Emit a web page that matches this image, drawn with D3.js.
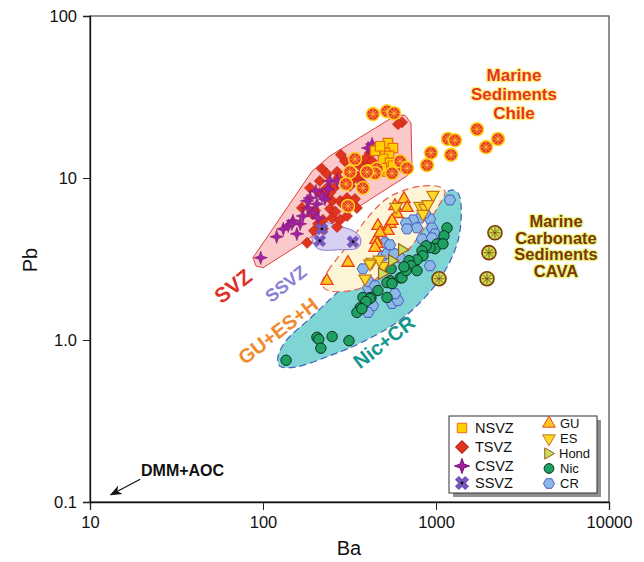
<!DOCTYPE html>
<html lang="en">
<head>
<meta charset="utf-8">
<title>Pb vs Ba</title>
<script src="https://cdn.jsdelivr.net/npm/d3@7/dist/d3.min.js"></script>
<style>
  body { margin: 0; background: #fff; }
  text { font-family: "Liberation Sans", Arial, Helvetica, sans-serif; }
</style>
</head>
<body>
<div id="chart"></div>
<script>
"use strict"

// ---- data: [Ba, Pb] ----
var nsvz = [[528,16.4],[564,15.3],[462,14.9],[507,14.3],[535,13.7],[494,13.1],[542,12.4],
            [521,11.0],[487,11.5],[564,11.9],[444,14.7],[475,15.7]];
var tsvz = [[636,22.1],[603,21.5],[282,13.9],[219,11.4],[234,10.6],[268,10.9],[272,10.0],
            [340,12.4],[389,12.7],[415,14.3],[389,13.1],[405,11.4],[373,9.31],[645,11.5],
            [213,8.08],[234,8.68],[257,8.68],[251,7.22],[279,7.22],[306,7.53],[340,7.42],
            [349,6.54],[168,6.54],[192,6.00],[222,5.51],[251,5.67],[279,5.51],[306,5.83],
            [268,4.99],[222,4.85],[180,3.98],[244,6.45],[213,9.59],[197,4.72],[208,5.21],
            [228,7.75],[187,8.68],[378,9.18],[318,8.93],[427,12.7],[364,11.9],[298,12.7],
            [262,6.2],[290,6.9],[330,9.8],[355,10.2],[244,8.1],[200,6.3]];
var csvz = [[97,3.22],[120,4.34],[131,4.85],[140,5.07],[149,5.44],[157,4.52],[170,5.83],
            [182,6.54],[195,6.09],[205,6.91],[208,5.67],[228,7.42],[238,8.55],[187,7.53],
            [219,7.75],[244,9.59],[268,9.59],[405,15.3],[427,16.2],[164,5.21],[180,7.22],
            [147,5.21],[202,8.31]];
var ssvz = [[219,4.85],[213,4.10],[331,4.04]];
var gu   = [[653,7.42],[680,6.54],[595,6.00],[462,5.07],[542,5.21],[528,4.72],[450,4.15],
            [456,3.92],[444,3.71],[310,3.00],[234,2.32],[579,6.72],[557,5.44],[475,4.59]];
var es   = [[961,7.86],[809,6.72],[864,6.54],[841,6.00],[587,6.63],[427,3.04],[494,2.87],
            [469,3.13],[389,2.39],[415,2.96],[899,6.90]];
var hond = [[636,3.61],[557,3.09],[487,2.57]];
var nic  = [[1158,4.92],[1112,4.40],[1014,3.92],[987,3.66],[923,3.71],[876,3.81],[830,3.55],
            [841,3.31],[776,3.13],[698,3.09],[717,2.87],[776,2.68],[620,2.42],[542,2.32],
            [550,2.75],[521,2.26],[462,2.02],[378,1.83],[421,1.83],[521,1.83],[636,2.42],
            [557,2.23],[671,2.68],[415,1.80],[394,1.73],[364,1.58],[349,1.48],[373,1.56],
            [205,1.04],[210,1.01],[216,0.89],[251,1.05],[314,0.99],[136,0.75],[1097,3.92],
            [653,2.83]];
var cr   = [[1204,7.32],[923,5.59],[809,5.67],[736,5.51],[671,5.28],[776,4.92],[680,4.85],
            [948,4.92],[987,4.52],[830,4.21],[948,4.27],[507,3.98],[494,3.31],[550,3.36],
            [620,3.22],[378,2.75],[923,2.87],[405,2.10],[410,2.29],[521,3.41],[572,3.41],
            [542,3.87],[444,2.16],[557,1.68],[603,1.75],[432,1.63],[405,1.48],[579,1.93],
            [864,6.09]];
var chileSed = [[432,24.8],[521,25.8],[572,25.1],[1173,17.4],[1288,17.1],[1726,20.0],
                [2282,17.4],[935,14.3],[1221,13.9],[1946,15.5],[887,12.0],
                [318,10.9],[302,9.18],[340,13.1],[405,11.0],[456,11.4],[378,8.68],
                [310,6.72],[620,12.7],[680,11.5],[444,10.7],[557,10.7],[399,10.9]];
var cavaSed = [[2192,4.59],[2024,3.46],[1972,2.39],[1041,2.39]];

// fields (outlines, [Ba, Pb])
var svzField  = [[87.5,3.22],[91,2.87],[100,2.79],[689,10.4],[727,11.2],[717,21.8],
                 [662,24.4],[587,24.4],[244,13.7],[192,11.0]];
var ssvzField = [[192,4.21],[202,4.99],[222,5.36],[261,5.13],[340,4.65],[368,4.15],
                 [354,3.71],[279,3.61],[208,3.66]];
var guesField = [[219,2.20],[238,2.68],[298,3.66],[389,5.44],[507,7.32],[636,8.31],
                 [830,8.93],[1054,8.80],[1127,8.20],[1027,6.63],[864,4.99],[708,3.71],
                 [542,2.83],[427,2.29],[340,2.04],[238,2.02]];
var niccrField = [[122,0.79],[136,0.99],[187,1.36],[268,1.96],[475,3.46],[809,5.84],
                  [1054,7.64],[1236,8.44],[1340,8.08],[1396,6.72],[1340,4.10],[1054,2.39],
                  [662,1.40],[389,0.99],[244,0.80],[153,0.68],[125,0.69]];

// axes
var xMajor = [10, 100, 1000, 10000];
var xMajorLabels = ["10", "100", "1000", "10000"];
var yMajor = [0.1, 1, 10, 100];
var yMajorLabels = ["0.1", "1.0", "10", "100"];

// ---- chart ----
var W = 644, H = 562;
var svg = d3.select('#chart').append('svg').attr('width', W).attr('height', H);

var x = d3.scaleLog().domain([10, 10000]).range([90, 609]);
var y = d3.scaleLog().domain([0.1, 100]).range([502, 16]);

function minors(lo, hi) {
  var out = [];
  for (var d = lo; d < hi; d *= 10)
    for (var k = 2; k <= 9; k++) out.push(d * k);
  return out;
}

var line = d3.line().x(d => x(d[0])).y(d => y(d[1]));

// fields
svg.append('path').datum(niccrField)
  .attr('d', line.curve(d3.curveCatmullRomClosed.alpha(0.5)))
  .attr('fill', '#7fd5d3').attr('stroke', '#4a5cba').attr('stroke-width', 1.2)
  .attr('stroke-dasharray', '7,4');
svg.append('path').datum(guesField)
  .attr('d', line.curve(d3.curveCatmullRomClosed.alpha(0.5)))
  .attr('fill', '#fdf5d6').attr('stroke', '#e85a50').attr('stroke-width', 1.2)
  .attr('stroke-dasharray', '7,4');
svg.append('path').datum(svzField)
  .attr('d', line.curve(d3.curveLinearClosed))
  .attr('fill', '#fbc9c9').attr('stroke', '#e0403a').attr('stroke-width', 1)
  .attr('stroke-linejoin', 'round');
svg.append('path').datum(ssvzField)
  .attr('d', line.curve(d3.curveCatmullRomClosed.alpha(0.5)))
  .attr('fill', '#d9cff3').attr('stroke', '#8a7ad0').attr('stroke-width', 1);

// custom symbols
var star4 = { draw: function(ctx, size) {
  var r = Math.sqrt(size) * 0.72, ri = r * 0.36;
  for (var i = 0; i < 8; i++) {
    var a = Math.PI / 4 * i - Math.PI / 2, rr = i % 2 ? ri : r;
    var px = rr * Math.cos(a), py = rr * Math.sin(a);
    if (i) ctx.lineTo(px, py); else ctx.moveTo(px, py);
  }
  ctx.closePath();
}};
var hexagon = { draw: function(ctx, size) {
  var r = Math.sqrt(size / 2.598);
  for (var i = 0; i < 6; i++) {
    var a = Math.PI / 3 * i, px = r * Math.cos(a), py = r * Math.sin(a);
    if (i) ctx.lineTo(px, py); else ctx.moveTo(px, py);
  }
  ctx.closePath();
}};

var pts = svg.append('g');

function plot(data, type, size, fill, stroke, sw, rot) {
  pts.append('g').selectAll('path').data(data).enter().append('path')
    .attr('d', d3.symbol().type(type).size(size))
    .attr('transform', d => 'translate(' + x(d[0]) + ',' + y(d[1]) + ') rotate(' + (rot || 0) + ')')
    .attr('fill', fill).attr('stroke', stroke).attr('stroke-width', sw);
}

function slice(data, r, fill, rim, spoke) {
  var gs = pts.append('g').selectAll('g').data(data).enter().append('g')
    .attr('transform', d => 'translate(' + x(d[0]) + ',' + y(d[1]) + ')');
  gs.append('circle').attr('r', r).attr('fill', fill).attr('stroke', rim).attr('stroke-width', 1.6);
  [0, 45, 90, 135].forEach(function(a) {
    gs.append('line').attr('x1', -(r - 1.5)).attr('x2', r - 1.5).attr('y1', 0).attr('y2', 0)
      .attr('transform', 'rotate(' + a + ')').attr('stroke', spoke).attr('stroke-width', 0.7);
  });
}

plot(tsvz, d3.symbolSquare, 62, '#e0341f', '#b5200f', 0.6, 45);
plot(csvz, star4, 90, '#a0229c', '#7a1078', 0.5);
plot(nsvz, d3.symbolSquare, 90, '#ffd000', '#ee6a10', 1.2);
slice(chileSed, 6.5, '#e63a26', '#ffd21a', '#ffcc33');
plot(ssvz, d3.symbolCross, 90, '#7858c0', '#6a4cb0', 0.5, 45);
pts.append('g').selectAll('circle').data(ssvz).enter().append('circle')
  .attr('cx', d => x(d[0])).attr('cy', d => y(d[1])).attr('r', 1.4).attr('fill', '#111');
plot(cr, hexagon, 85, '#8cb8e6', '#4a5cc0', 1);
plot(nic, d3.symbolCircle, 85, '#1fa060', '#0c3020', 1);
plot(gu, d3.symbolTriangle, 65, '#ffc820', '#e8401a', 1.3);
plot(es, d3.symbolTriangle, 65, '#ffd82a', '#c07818', 1.2, 180);
plot(hond, d3.symbolTriangle, 60, '#c8e060', '#a05a18', 1.2, 90);
slice(cavaSed, 7, '#c8dc50', '#7a3a0a', '#7a3a0a');

// frame and axes
svg.append('rect').attr('x', 90).attr('y', 16).attr('width', 519).attr('height', 486)
  .attr('fill', 'none').attr('stroke', '#555').attr('stroke-width', 1.3);

var xa = svg.append('g').attr('transform', 'translate(0,502)');
xa.call(d3.axisBottom(x).tickValues(minors(10, 10000)).tickSize(4).tickFormat(''));
xa.call(d3.axisBottom(x).tickValues(xMajor).tickSize(8).tickFormat((d, i) => xMajorLabels[i]).tickPadding(6));
var ya = svg.append('g').attr('transform', 'translate(90,0)');
ya.call(d3.axisLeft(y).tickValues(minors(0.1, 100)).tickSize(4).tickFormat(''));
ya.call(d3.axisLeft(y).tickValues(yMajor).tickSize(7).tickFormat((d, i) => yMajorLabels[i]).tickPadding(6));
svg.selectAll('.domain').attr('stroke', '#111').attr('stroke-width', 1.3);
svg.selectAll('.tick line').attr('stroke', '#222');
svg.selectAll('.tick text').attr('font-size', 16.5).attr('fill', '#111')
  .attr('font-family', '"Liberation Sans", Arial, sans-serif');

svg.append('text').attr('x', 349).attr('y', 555).attr('text-anchor', 'middle')
  .attr('font-size', 20).attr('fill', '#111').text('Ba');
svg.append('text').attr('transform', 'translate(37,260) rotate(-90)').attr('text-anchor', 'middle')
  .attr('font-size', 20).attr('fill', '#111').text('Pb');

// field labels
function rotLabel(txt, cx, cy, size, color) {
  svg.append('text').attr('transform', 'translate(' + cx + ',' + cy + ') rotate(-38)')
    .attr('text-anchor', 'middle').attr('dominant-baseline', 'central')
    .attr('font-size', size).attr('font-weight', 'bold').attr('fill', color).text(txt);
}
rotLabel('SVZ', 233, 286, 21, '#e0302a');
rotLabel('SSVZ', 286, 284, 18, '#8a80d6');
rotLabel('GU+ES+H', 278, 331, 20, '#f08a2c');
rotLabel('Nic+CR', 384, 342, 20, '#14968c');

function haloText(lines, cx, y0, dy, size, fill, halo) {
  lines.forEach(function(t, i) {
    svg.append('text').attr('x', cx).attr('y', y0 + i * dy).attr('text-anchor', 'middle')
      .attr('font-size', size).attr('font-weight', 'bold').attr('fill', fill)
      .attr('stroke', halo).attr('stroke-width', 2.5).attr('stroke-linejoin', 'round')
      .attr('paint-order', 'stroke').text(t);
  });
}
haloText(['Marine', 'Sediments', 'Chile'], 514, 81, 19, 17, '#e8322a', '#fff27a');
haloText(['Marine', 'Carbonate', 'Sediments', 'CAVA'], 556, 227, 16.7, 16.5, '#7a3808', '#ecf47c');

// DMM+AOC annotation
svg.append('defs').append('marker').attr('id', 'arr').attr('viewBox', '0 0 10 10')
  .attr('refX', 9).attr('refY', 5).attr('markerWidth', 12).attr('markerHeight', 12)
  .attr('markerUnits', 'userSpaceOnUse')
  .attr('orient', 'auto').append('path').attr('d', 'M0,1 L10,5 L0,9 L3,5 Z').attr('fill', '#111');
svg.append('line').attr('x1', x(19.5)).attr('y1', y(0.138)).attr('x2', x(13.2)).attr('y2', y(0.111))
  .attr('stroke', '#111').attr('stroke-width', 1.2).attr('marker-end', 'url(#arr)');
svg.append('text').attr('x', 141).attr('y', 476).attr('font-size', 16).attr('font-weight', 'bold')
  .attr('fill', '#111').text('DMM+AOC');

// legend
var lg = svg.append('g');
lg.append('rect').attr('x', 453).attr('y', 420).attr('width', 148).attr('height', 77).attr('fill', '#8f8f8f');
lg.append('rect').attr('x', 449).attr('y', 416).attr('width', 148).attr('height', 77)
  .attr('fill', '#fff').attr('stroke', '#333').attr('stroke-width', 1);

var legItems = [
  { name: 'NSVZ', type: d3.symbolSquare, size: 90, fill: '#ffd000', stroke: '#ee6a10', rot: 0, lx: 462, ly: 428 },
  { name: 'TSVZ', type: d3.symbolSquare, size: 80, fill: '#e0341f', stroke: '#b5200f', rot: 45, lx: 462, ly: 447 },
  { name: 'CSVZ', type: star4, size: 110, fill: '#a0229c', stroke: '#7a1078', rot: 0, lx: 462, ly: 466 },
  { name: 'SSVZ', type: d3.symbolCross, size: 100, fill: '#7858c0', stroke: '#6a4cb0', rot: 45, lx: 462, ly: 483 },
  { name: 'GU', type: d3.symbolTriangle, size: 70, fill: '#ffc820', stroke: '#e8401a', rot: 0, lx: 549, ly: 423.5 },
  { name: 'ES', type: d3.symbolTriangle, size: 70, fill: '#ffd82a', stroke: '#c07818', rot: 180, lx: 549, ly: 438.5 },
  { name: 'Hond', type: d3.symbolTriangle, size: 55, fill: '#c8e060', stroke: '#a05a18', rot: 90, lx: 548, ly: 453.5 },
  { name: 'Nic', type: d3.symbolCircle, size: 75, fill: '#1fa060', stroke: '#0c3020', rot: 0, lx: 549, ly: 468.5 },
  { name: 'CR', type: hexagon, size: 80, fill: '#8cb8e6', stroke: '#4a5cc0', rot: 0, lx: 549, ly: 483.5 }
];
legItems.forEach(function(it) {
  lg.append('path').attr('d', d3.symbol().type(it.type).size(it.size))
    .attr('transform', 'translate(' + it.lx + ',' + it.ly + ') rotate(' + it.rot + ')')
    .attr('fill', it.fill).attr('stroke', it.stroke).attr('stroke-width', 1);
  lg.append('text').attr('x', it.lx + (it.lx < 500 ? 13 : 11)).attr('y', it.ly).attr('dy', '0.35em')
    .attr('font-size', it.lx < 500 ? 14.5 : 13).attr('fill', '#111').text(it.name);
});
lg.append('circle').attr('cx', 462).attr('cy', 483).attr('r', 1.4).attr('fill', '#111');
</script>
</body>
</html>
